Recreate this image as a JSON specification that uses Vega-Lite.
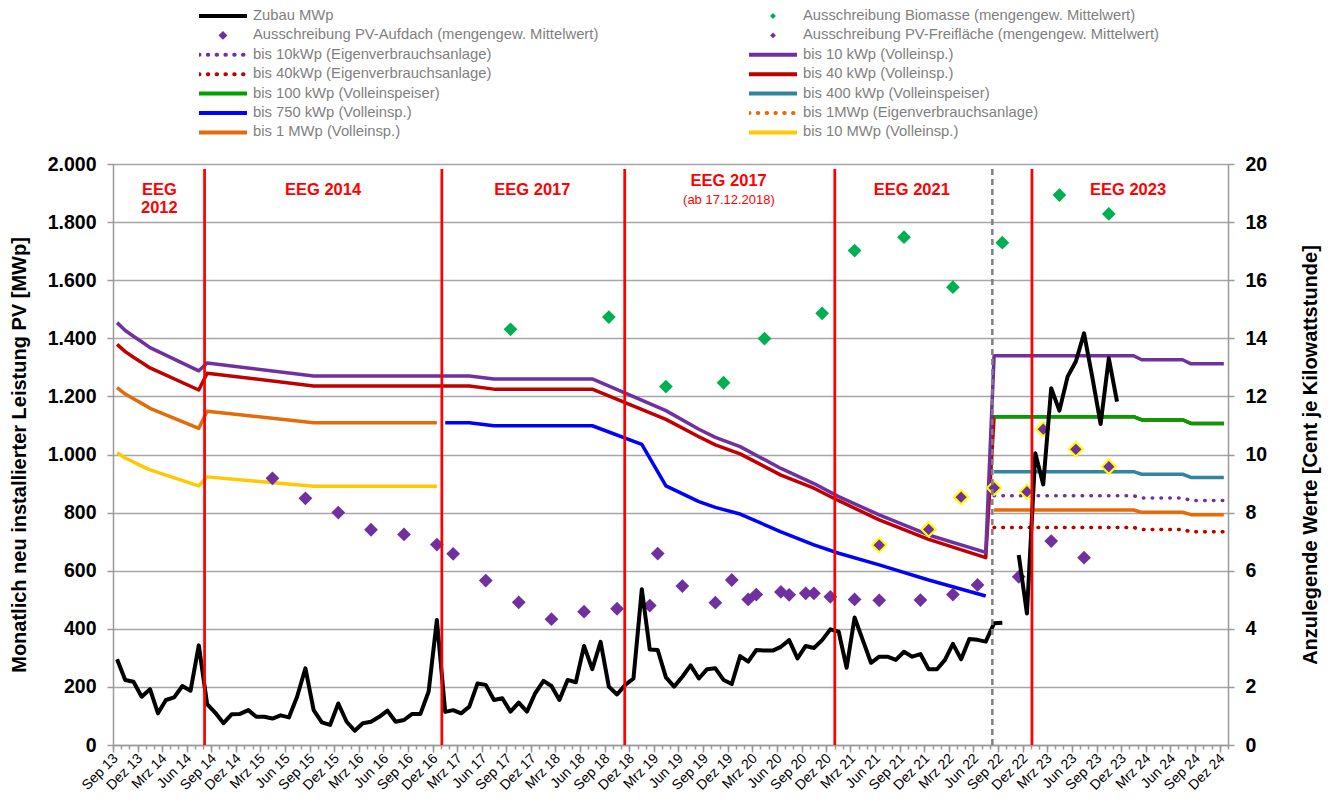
{
  "$schema": "https://vega.github.io/schema/vega-lite/v6.json",
  "width": 1115,
  "height": 581,
  "autosize": {"type": "none"},
  "padding": {"left": 113, "top": 164, "right": 107, "bottom": 59},
  "background": "white",
  "config": {
    "view": {"stroke": null},
    "font": "Liberation Sans",
    "axis": {"labelFont": "Liberation Sans", "titleFont": "Liberation Sans", "domainColor": "#9a9a9a", "tickColor": "#9a9a9a", "gridColor": "#a6a6a6"},
    "axisX": {"labelOverlap": false, "labelFlush": false, "labelBound": false}
  },
  "datasets": {
    "zubau": [
      {"monat": "2013-09", "mwp": 295}, {"monat": "2013-10", "mwp": 224}, {"monat": "2013-11", "mwp": 218}, {"monat": "2013-12", "mwp": 166},
      {"monat": "2014-01", "mwp": 192}, {"monat": "2014-02", "mwp": 109}, {"monat": "2014-03", "mwp": 155}, {"monat": "2014-04", "mwp": 164},
      {"monat": "2014-05", "mwp": 203}, {"monat": "2014-06", "mwp": 187}, {"monat": "2014-07", "mwp": 343}, {"monat": "2014-08", "mwp": 141},
      {"monat": "2014-09", "mwp": 111}, {"monat": "2014-10", "mwp": 75}, {"monat": "2014-11", "mwp": 106}, {"monat": "2014-12", "mwp": 107},
      {"monat": "2015-01", "mwp": 120}, {"monat": "2015-02", "mwp": 97}, {"monat": "2015-03", "mwp": 97}, {"monat": "2015-04", "mwp": 91},
      {"monat": "2015-05", "mwp": 102}, {"monat": "2015-06", "mwp": 95}, {"monat": "2015-07", "mwp": 166}, {"monat": "2015-08", "mwp": 264},
      {"monat": "2015-09", "mwp": 120}, {"monat": "2015-10", "mwp": 78}, {"monat": "2015-11", "mwp": 69}, {"monat": "2015-12", "mwp": 143},
      {"monat": "2016-01", "mwp": 80}, {"monat": "2016-02", "mwp": 49}, {"monat": "2016-03", "mwp": 75}, {"monat": "2016-04", "mwp": 80},
      {"monat": "2016-05", "mwp": 97}, {"monat": "2016-06", "mwp": 118}, {"monat": "2016-07", "mwp": 80}, {"monat": "2016-08", "mwp": 86},
      {"monat": "2016-09", "mwp": 107}, {"monat": "2016-10", "mwp": 107}, {"monat": "2016-11", "mwp": 184}, {"monat": "2016-12", "mwp": 430},
      {"monat": "2017-01", "mwp": 114}, {"monat": "2017-02", "mwp": 120}, {"monat": "2017-03", "mwp": 109}, {"monat": "2017-04", "mwp": 132},
      {"monat": "2017-05", "mwp": 212}, {"monat": "2017-06", "mwp": 207}, {"monat": "2017-07", "mwp": 155}, {"monat": "2017-08", "mwp": 161},
      {"monat": "2017-09", "mwp": 115}, {"monat": "2017-10", "mwp": 146}, {"monat": "2017-11", "mwp": 115}, {"monat": "2017-12", "mwp": 178},
      {"monat": "2018-01", "mwp": 221}, {"monat": "2018-02", "mwp": 203}, {"monat": "2018-03", "mwp": 155}, {"monat": "2018-04", "mwp": 224},
      {"monat": "2018-05", "mwp": 216}, {"monat": "2018-06", "mwp": 341}, {"monat": "2018-07", "mwp": 261}, {"monat": "2018-08", "mwp": 355},
      {"monat": "2018-09", "mwp": 201}, {"monat": "2018-10", "mwp": 174}, {"monat": "2018-11", "mwp": 207}, {"monat": "2018-12", "mwp": 229},
      {"monat": "2019-01", "mwp": 536}, {"monat": "2019-02", "mwp": 329}, {"monat": "2019-03", "mwp": 327}, {"monat": "2019-04", "mwp": 233},
      {"monat": "2019-05", "mwp": 201}, {"monat": "2019-06", "mwp": 235}, {"monat": "2019-07", "mwp": 274}, {"monat": "2019-08", "mwp": 229},
      {"monat": "2019-09", "mwp": 261}, {"monat": "2019-10", "mwp": 264}, {"monat": "2019-11", "mwp": 224}, {"monat": "2019-12", "mwp": 210},
      {"monat": "2020-01", "mwp": 306}, {"monat": "2020-02", "mwp": 287}, {"monat": "2020-03", "mwp": 327}, {"monat": "2020-04", "mwp": 325},
      {"monat": "2020-05", "mwp": 325}, {"monat": "2020-06", "mwp": 338}, {"monat": "2020-07", "mwp": 361}, {"monat": "2020-08", "mwp": 298},
      {"monat": "2020-09", "mwp": 341}, {"monat": "2020-10", "mwp": 334}, {"monat": "2020-11", "mwp": 361}, {"monat": "2020-12", "mwp": 398},
      {"monat": "2021-01", "mwp": 390}, {"monat": "2021-02", "mwp": 266}, {"monat": "2021-03", "mwp": 439}, {"monat": "2021-04", "mwp": 361},
      {"monat": "2021-05", "mwp": 283}, {"monat": "2021-06", "mwp": 304}, {"monat": "2021-07", "mwp": 304}, {"monat": "2021-08", "mwp": 293},
      {"monat": "2021-09", "mwp": 321}, {"monat": "2021-10", "mwp": 304}, {"monat": "2021-11", "mwp": 313}, {"monat": "2021-12", "mwp": 261},
      {"monat": "2022-01", "mwp": 261}, {"monat": "2022-02", "mwp": 293}, {"monat": "2022-03", "mwp": 348}, {"monat": "2022-04", "mwp": 295},
      {"monat": "2022-05", "mwp": 365}, {"monat": "2022-06", "mwp": 362}, {"monat": "2022-07", "mwp": 356}, {"monat": "2022-08", "mwp": 419},
      {"monat": "2022-09", "mwp": 421}, {"monat": "2022-10", "mwp": null}, {"monat": "2022-11", "mwp": 654}, {"monat": "2022-12", "mwp": 453},
      {"monat": "2023-01", "mwp": 1004}, {"monat": "2023-02", "mwp": 897}, {"monat": "2023-03", "mwp": 1228}, {"monat": "2023-04", "mwp": 1151},
      {"monat": "2023-05", "mwp": 1268}, {"monat": "2023-06", "mwp": 1320}, {"monat": "2023-07", "mwp": 1417}, {"monat": "2023-08", "mwp": 1265},
      {"monat": "2023-09", "mwp": 1105}, {"monat": "2023-10", "mwp": 1331}, {"monat": "2023-11", "mwp": 1182}
    ],
    "tarife_voll": [
      {"serie": "bis 10 MWp (Volleinsp.)", "monat": "2013-09", "wert": 10.06},
      {"serie": "bis 10 MWp (Volleinsp.)", "monat": "2013-10", "wert": 9.88},
      {"serie": "bis 10 MWp (Volleinsp.)", "monat": "2013-11", "wert": 9.74},
      {"serie": "bis 10 MWp (Volleinsp.)", "monat": "2013-12", "wert": 9.60},
      {"serie": "bis 10 MWp (Volleinsp.)", "monat": "2014-01", "wert": 9.47},
      {"serie": "bis 10 MWp (Volleinsp.)", "monat": "2014-07", "wert": 8.92},
      {"serie": "bis 10 MWp (Volleinsp.)", "monat": "2014-08", "wert": 9.23},
      {"serie": "bis 10 MWp (Volleinsp.)", "monat": "2015-09", "wert": 8.91},
      {"serie": "bis 10 MWp (Volleinsp.)", "monat": "2016-12", "wert": 8.91},
      {"serie": "bis 1 MWp (Volleinsp.)", "monat": "2013-09", "wert": 12.30},
      {"serie": "bis 1 MWp (Volleinsp.)", "monat": "2013-10", "wert": 12.08},
      {"serie": "bis 1 MWp (Volleinsp.)", "monat": "2013-11", "wert": 11.92},
      {"serie": "bis 1 MWp (Volleinsp.)", "monat": "2013-12", "wert": 11.76},
      {"serie": "bis 1 MWp (Volleinsp.)", "monat": "2014-01", "wert": 11.59},
      {"serie": "bis 1 MWp (Volleinsp.)", "monat": "2014-07", "wert": 10.90},
      {"serie": "bis 1 MWp (Volleinsp.)", "monat": "2014-08", "wert": 11.49},
      {"serie": "bis 1 MWp (Volleinsp.)", "monat": "2015-09", "wert": 11.09},
      {"serie": "bis 1 MWp (Volleinsp.)", "monat": "2016-12", "wert": 11.09},
      {"serie": "bis 1 MWp (Volleinsp.)", "monat": "2017-01", "wert": null},
      {"serie": "bis 1 MWp (Volleinsp.)", "monat": "2022-08", "wert": 8.09},
      {"serie": "bis 1 MWp (Volleinsp.)", "monat": "2024-01", "wert": 8.09},
      {"serie": "bis 1 MWp (Volleinsp.)", "monat": "2024-02", "wert": 8.01},
      {"serie": "bis 1 MWp (Volleinsp.)", "monat": "2024-07", "wert": 8.01},
      {"serie": "bis 1 MWp (Volleinsp.)", "monat": "2024-08", "wert": 7.93},
      {"serie": "bis 1 MWp (Volleinsp.)", "monat": "2024-12", "wert": 7.93},
      {"serie": "bis 750 kWp (Volleinsp.)", "monat": "2017-01", "wert": 11.09},
      {"serie": "bis 750 kWp (Volleinsp.)", "monat": "2017-04", "wert": 11.09},
      {"serie": "bis 750 kWp (Volleinsp.)", "monat": "2017-07", "wert": 10.99},
      {"serie": "bis 750 kWp (Volleinsp.)", "monat": "2018-07", "wert": 10.99},
      {"serie": "bis 750 kWp (Volleinsp.)", "monat": "2019-01", "wert": 10.35},
      {"serie": "bis 750 kWp (Volleinsp.)", "monat": "2019-04", "wert": 8.92},
      {"serie": "bis 750 kWp (Volleinsp.)", "monat": "2019-08", "wert": 8.38},
      {"serie": "bis 750 kWp (Volleinsp.)", "monat": "2019-10", "wert": 8.18},
      {"serie": "bis 750 kWp (Volleinsp.)", "monat": "2020-01", "wert": 7.95},
      {"serie": "bis 750 kWp (Volleinsp.)", "monat": "2020-06", "wert": 7.34},
      {"serie": "bis 750 kWp (Volleinsp.)", "monat": "2020-10", "wert": 6.89},
      {"serie": "bis 750 kWp (Volleinsp.)", "monat": "2021-01", "wert": 6.60},
      {"serie": "bis 750 kWp (Volleinsp.)", "monat": "2021-06", "wert": 6.20},
      {"serie": "bis 750 kWp (Volleinsp.)", "monat": "2021-12", "wert": 5.68},
      {"serie": "bis 750 kWp (Volleinsp.)", "monat": "2022-07", "wert": 5.13},
      {"serie": "bis 40 kWp (Volleinsp.)", "monat": "2013-09", "wert": 13.79},
      {"serie": "bis 40 kWp (Volleinsp.)", "monat": "2013-10", "wert": 13.54},
      {"serie": "bis 40 kWp (Volleinsp.)", "monat": "2013-11", "wert": 13.35},
      {"serie": "bis 40 kWp (Volleinsp.)", "monat": "2013-12", "wert": 13.17},
      {"serie": "bis 40 kWp (Volleinsp.)", "monat": "2014-01", "wert": 12.98},
      {"serie": "bis 40 kWp (Volleinsp.)", "monat": "2014-07", "wert": 12.22},
      {"serie": "bis 40 kWp (Volleinsp.)", "monat": "2014-08", "wert": 12.80},
      {"serie": "bis 40 kWp (Volleinsp.)", "monat": "2015-09", "wert": 12.36},
      {"serie": "bis 40 kWp (Volleinsp.)", "monat": "2017-04", "wert": 12.36},
      {"serie": "bis 40 kWp (Volleinsp.)", "monat": "2017-07", "wert": 12.25},
      {"serie": "bis 40 kWp (Volleinsp.)", "monat": "2018-07", "wert": 12.25},
      {"serie": "bis 40 kWp (Volleinsp.)", "monat": "2019-04", "wert": 11.21},
      {"serie": "bis 40 kWp (Volleinsp.)", "monat": "2019-08", "wert": 10.61},
      {"serie": "bis 40 kWp (Volleinsp.)", "monat": "2019-10", "wert": 10.33},
      {"serie": "bis 40 kWp (Volleinsp.)", "monat": "2020-01", "wert": 10.02},
      {"serie": "bis 40 kWp (Volleinsp.)", "monat": "2020-06", "wert": 9.29},
      {"serie": "bis 40 kWp (Volleinsp.)", "monat": "2020-10", "wert": 8.84},
      {"serie": "bis 40 kWp (Volleinsp.)", "monat": "2021-01", "wert": 8.41},
      {"serie": "bis 40 kWp (Volleinsp.)", "monat": "2021-06", "wert": 7.75},
      {"serie": "bis 40 kWp (Volleinsp.)", "monat": "2021-12", "wert": 7.08},
      {"serie": "bis 40 kWp (Volleinsp.)", "monat": "2022-07", "wert": 6.45},
      {"serie": "bis 40 kWp (Volleinsp.)", "monat": "2022-08", "wert": 11.30},
      {"serie": "bis 40 kWp (Volleinsp.)", "monat": "2024-01", "wert": 11.30},
      {"serie": "bis 40 kWp (Volleinsp.)", "monat": "2024-02", "wert": 11.19},
      {"serie": "bis 40 kWp (Volleinsp.)", "monat": "2024-07", "wert": 11.19},
      {"serie": "bis 40 kWp (Volleinsp.)", "monat": "2024-08", "wert": 11.07},
      {"serie": "bis 40 kWp (Volleinsp.)", "monat": "2024-12", "wert": 11.07},
      {"serie": "bis 400 kWp (Volleinspeiser)", "monat": "2022-08", "wert": 9.41},
      {"serie": "bis 400 kWp (Volleinspeiser)", "monat": "2024-01", "wert": 9.41},
      {"serie": "bis 400 kWp (Volleinspeiser)", "monat": "2024-02", "wert": 9.32},
      {"serie": "bis 400 kWp (Volleinspeiser)", "monat": "2024-07", "wert": 9.32},
      {"serie": "bis 400 kWp (Volleinspeiser)", "monat": "2024-08", "wert": 9.21},
      {"serie": "bis 400 kWp (Volleinspeiser)", "monat": "2024-12", "wert": 9.21},
      {"serie": "bis 100 kWp (Volleinspeiser)", "monat": "2022-08", "wert": 11.30},
      {"serie": "bis 100 kWp (Volleinspeiser)", "monat": "2024-01", "wert": 11.30},
      {"serie": "bis 100 kWp (Volleinspeiser)", "monat": "2024-02", "wert": 11.19},
      {"serie": "bis 100 kWp (Volleinspeiser)", "monat": "2024-07", "wert": 11.19},
      {"serie": "bis 100 kWp (Volleinspeiser)", "monat": "2024-08", "wert": 11.07},
      {"serie": "bis 100 kWp (Volleinspeiser)", "monat": "2024-12", "wert": 11.07},
      {"serie": "bis 10 kWp (Volleinsp.)", "monat": "2013-09", "wert": 14.54},
      {"serie": "bis 10 kWp (Volleinsp.)", "monat": "2013-10", "wert": 14.27},
      {"serie": "bis 10 kWp (Volleinsp.)", "monat": "2013-11", "wert": 14.07},
      {"serie": "bis 10 kWp (Volleinsp.)", "monat": "2013-12", "wert": 13.88},
      {"serie": "bis 10 kWp (Volleinsp.)", "monat": "2014-01", "wert": 13.68},
      {"serie": "bis 10 kWp (Volleinsp.)", "monat": "2014-07", "wert": 12.88},
      {"serie": "bis 10 kWp (Volleinsp.)", "monat": "2014-08", "wert": 13.15},
      {"serie": "bis 10 kWp (Volleinsp.)", "monat": "2015-09", "wert": 12.70},
      {"serie": "bis 10 kWp (Volleinsp.)", "monat": "2017-04", "wert": 12.70},
      {"serie": "bis 10 kWp (Volleinsp.)", "monat": "2017-07", "wert": 12.60},
      {"serie": "bis 10 kWp (Volleinsp.)", "monat": "2018-07", "wert": 12.60},
      {"serie": "bis 10 kWp (Volleinsp.)", "monat": "2019-04", "wert": 11.51},
      {"serie": "bis 10 kWp (Volleinsp.)", "monat": "2019-08", "wert": 10.87},
      {"serie": "bis 10 kWp (Volleinsp.)", "monat": "2019-10", "wert": 10.59},
      {"serie": "bis 10 kWp (Volleinsp.)", "monat": "2020-01", "wert": 10.27},
      {"serie": "bis 10 kWp (Volleinsp.)", "monat": "2020-06", "wert": 9.52},
      {"serie": "bis 10 kWp (Volleinsp.)", "monat": "2020-10", "wert": 9.00},
      {"serie": "bis 10 kWp (Volleinsp.)", "monat": "2021-01", "wert": 8.55},
      {"serie": "bis 10 kWp (Volleinsp.)", "monat": "2021-06", "wert": 7.92},
      {"serie": "bis 10 kWp (Volleinsp.)", "monat": "2021-12", "wert": 7.23},
      {"serie": "bis 10 kWp (Volleinsp.)", "monat": "2022-07", "wert": 6.63},
      {"serie": "bis 10 kWp (Volleinsp.)", "monat": "2022-08", "wert": 13.40},
      {"serie": "bis 10 kWp (Volleinsp.)", "monat": "2024-01", "wert": 13.40},
      {"serie": "bis 10 kWp (Volleinsp.)", "monat": "2024-02", "wert": 13.26},
      {"serie": "bis 10 kWp (Volleinsp.)", "monat": "2024-07", "wert": 13.26},
      {"serie": "bis 10 kWp (Volleinsp.)", "monat": "2024-08", "wert": 13.12},
      {"serie": "bis 10 kWp (Volleinsp.)", "monat": "2024-12", "wert": 13.12}
    ],
    "tarife_ev": [
      {"serie": "bis 1MWp (Eigenverbrauchsanlage)", "monat": "2022-08", "wert": 7.49},
      {"serie": "bis 1MWp (Eigenverbrauchsanlage)", "monat": "2024-01", "wert": 7.49},
      {"serie": "bis 1MWp (Eigenverbrauchsanlage)", "monat": "2024-02", "wert": 7.42},
      {"serie": "bis 1MWp (Eigenverbrauchsanlage)", "monat": "2024-07", "wert": 7.42},
      {"serie": "bis 1MWp (Eigenverbrauchsanlage)", "monat": "2024-08", "wert": 7.34},
      {"serie": "bis 1MWp (Eigenverbrauchsanlage)", "monat": "2024-12", "wert": 7.34},
      {"serie": "bis 40kWp (Eigenverbrauchsanlage)", "monat": "2022-08", "wert": 7.49},
      {"serie": "bis 40kWp (Eigenverbrauchsanlage)", "monat": "2024-01", "wert": 7.49},
      {"serie": "bis 40kWp (Eigenverbrauchsanlage)", "monat": "2024-02", "wert": 7.42},
      {"serie": "bis 40kWp (Eigenverbrauchsanlage)", "monat": "2024-07", "wert": 7.42},
      {"serie": "bis 40kWp (Eigenverbrauchsanlage)", "monat": "2024-08", "wert": 7.34},
      {"serie": "bis 40kWp (Eigenverbrauchsanlage)", "monat": "2024-12", "wert": 7.34},
      {"serie": "bis 10kWp (Eigenverbrauchsanlage)", "monat": "2022-08", "wert": 8.58},
      {"serie": "bis 10kWp (Eigenverbrauchsanlage)", "monat": "2024-01", "wert": 8.58},
      {"serie": "bis 10kWp (Eigenverbrauchsanlage)", "monat": "2024-02", "wert": 8.50},
      {"serie": "bis 10kWp (Eigenverbrauchsanlage)", "monat": "2024-07", "wert": 8.50},
      {"serie": "bis 10kWp (Eigenverbrauchsanlage)", "monat": "2024-08", "wert": 8.42},
      {"serie": "bis 10kWp (Eigenverbrauchsanlage)", "monat": "2024-12", "wert": 8.42}
    ],
    "ausschreibungen": [
      {"serie": "Ausschreibung Biomasse (mengengew. Mittelwert)", "monat": "2017-09", "wert": 14.31},
      {"serie": "Ausschreibung Biomasse (mengengew. Mittelwert)", "monat": "2018-09", "wert": 14.73},
      {"serie": "Ausschreibung Biomasse (mengengew. Mittelwert)", "monat": "2019-04", "wert": 12.34},
      {"serie": "Ausschreibung Biomasse (mengengew. Mittelwert)", "monat": "2019-11", "wert": 12.47},
      {"serie": "Ausschreibung Biomasse (mengengew. Mittelwert)", "monat": "2020-04", "wert": 13.99},
      {"serie": "Ausschreibung Biomasse (mengengew. Mittelwert)", "monat": "2020-11", "wert": 14.86},
      {"serie": "Ausschreibung Biomasse (mengengew. Mittelwert)", "monat": "2021-03", "wert": 17.02},
      {"serie": "Ausschreibung Biomasse (mengengew. Mittelwert)", "monat": "2021-09", "wert": 17.48},
      {"serie": "Ausschreibung Biomasse (mengengew. Mittelwert)", "monat": "2022-03", "wert": 15.76},
      {"serie": "Ausschreibung Biomasse (mengengew. Mittelwert)", "monat": "2022-09", "wert": 17.29},
      {"serie": "Ausschreibung Biomasse (mengengew. Mittelwert)", "monat": "2023-04", "wert": 18.93},
      {"serie": "Ausschreibung Biomasse (mengengew. Mittelwert)", "monat": "2023-10", "wert": 18.28},
      {"serie": "Ausschreibung PV-Freifläche (mengengew. Mittelwert)", "monat": "2015-04", "wert": 9.18},
      {"serie": "Ausschreibung PV-Freifläche (mengengew. Mittelwert)", "monat": "2015-08", "wert": 8.49},
      {"serie": "Ausschreibung PV-Freifläche (mengengew. Mittelwert)", "monat": "2015-12", "wert": 8.00},
      {"serie": "Ausschreibung PV-Freifläche (mengengew. Mittelwert)", "monat": "2016-04", "wert": 7.41},
      {"serie": "Ausschreibung PV-Freifläche (mengengew. Mittelwert)", "monat": "2016-08", "wert": 7.25},
      {"serie": "Ausschreibung PV-Freifläche (mengengew. Mittelwert)", "monat": "2016-12", "wert": 6.90},
      {"serie": "Ausschreibung PV-Freifläche (mengengew. Mittelwert)", "monat": "2017-02", "wert": 6.58},
      {"serie": "Ausschreibung PV-Freifläche (mengengew. Mittelwert)", "monat": "2017-06", "wert": 5.66},
      {"serie": "Ausschreibung PV-Freifläche (mengengew. Mittelwert)", "monat": "2017-10", "wert": 4.91},
      {"serie": "Ausschreibung PV-Freifläche (mengengew. Mittelwert)", "monat": "2018-02", "wert": 4.33},
      {"serie": "Ausschreibung PV-Freifläche (mengengew. Mittelwert)", "monat": "2018-06", "wert": 4.59},
      {"serie": "Ausschreibung PV-Freifläche (mengengew. Mittelwert)", "monat": "2018-10", "wert": 4.69},
      {"serie": "Ausschreibung PV-Freifläche (mengengew. Mittelwert)", "monat": "2019-02", "wert": 4.80},
      {"serie": "Ausschreibung PV-Freifläche (mengengew. Mittelwert)", "monat": "2019-03", "wert": 6.59},
      {"serie": "Ausschreibung PV-Freifläche (mengengew. Mittelwert)", "monat": "2019-06", "wert": 5.47},
      {"serie": "Ausschreibung PV-Freifläche (mengengew. Mittelwert)", "monat": "2019-10", "wert": 4.90},
      {"serie": "Ausschreibung PV-Freifläche (mengengew. Mittelwert)", "monat": "2019-12", "wert": 5.68},
      {"serie": "Ausschreibung PV-Freifläche (mengengew. Mittelwert)", "monat": "2020-02", "wert": 5.01},
      {"serie": "Ausschreibung PV-Freifläche (mengengew. Mittelwert)", "monat": "2020-03", "wert": 5.18},
      {"serie": "Ausschreibung PV-Freifläche (mengengew. Mittelwert)", "monat": "2020-06", "wert": 5.27},
      {"serie": "Ausschreibung PV-Freifläche (mengengew. Mittelwert)", "monat": "2020-07", "wert": 5.17},
      {"serie": "Ausschreibung PV-Freifläche (mengengew. Mittelwert)", "monat": "2020-09", "wert": 5.22},
      {"serie": "Ausschreibung PV-Freifläche (mengengew. Mittelwert)", "monat": "2020-10", "wert": 5.22},
      {"serie": "Ausschreibung PV-Freifläche (mengengew. Mittelwert)", "monat": "2020-12", "wert": 5.10},
      {"serie": "Ausschreibung PV-Freifläche (mengengew. Mittelwert)", "monat": "2021-03", "wert": 5.01},
      {"serie": "Ausschreibung PV-Freifläche (mengengew. Mittelwert)", "monat": "2021-06", "wert": 4.98},
      {"serie": "Ausschreibung PV-Freifläche (mengengew. Mittelwert)", "monat": "2021-11", "wert": 4.99},
      {"serie": "Ausschreibung PV-Freifläche (mengengew. Mittelwert)", "monat": "2022-03", "wert": 5.18},
      {"serie": "Ausschreibung PV-Freifläche (mengengew. Mittelwert)", "monat": "2022-06", "wert": 5.51},
      {"serie": "Ausschreibung PV-Freifläche (mengengew. Mittelwert)", "monat": "2022-11", "wert": 5.79},
      {"serie": "Ausschreibung PV-Freifläche (mengengew. Mittelwert)", "monat": "2023-03", "wert": 7.02},
      {"serie": "Ausschreibung PV-Freifläche (mengengew. Mittelwert)", "monat": "2023-07", "wert": 6.45},
      {"serie": "Ausschreibung PV-Aufdach (mengengew. Mittelwert)", "monat": "2021-06", "wert": 6.88},
      {"serie": "Ausschreibung PV-Aufdach (mengengew. Mittelwert)", "monat": "2021-12", "wert": 7.42},
      {"serie": "Ausschreibung PV-Aufdach (mengengew. Mittelwert)", "monat": "2022-04", "wert": 8.53},
      {"serie": "Ausschreibung PV-Aufdach (mengengew. Mittelwert)", "monat": "2022-08", "wert": 8.85},
      {"serie": "Ausschreibung PV-Aufdach (mengengew. Mittelwert)", "monat": "2022-12", "wert": 8.72},
      {"serie": "Ausschreibung PV-Aufdach (mengengew. Mittelwert)", "monat": "2023-02", "wert": 10.87},
      {"serie": "Ausschreibung PV-Aufdach (mengengew. Mittelwert)", "monat": "2023-06", "wert": 10.18},
      {"serie": "Ausschreibung PV-Aufdach (mengengew. Mittelwert)", "monat": "2023-10", "wert": 9.58}
    ],
    "eeg": [
      {"tag": "2014-08-07", "art": "EEG"},
      {"tag": "2017-01-04", "art": "EEG"},
      {"tag": "2018-11-14", "art": "EEG"},
      {"tag": "2021-01-02", "art": "EEG"},
      {"tag": "2023-01-04", "art": "EEG"},
      {"tag": "2022-08-10", "art": "Stichtag"}
    ],
    "beschriftung": [
      {"tag": "2014-02-20", "text": "EEG\n2012", "art": "Gesetz"},
      {"tag": "2015-10-21", "text": "EEG 2014", "art": "Gesetz"},
      {"tag": "2017-12-06", "text": "EEG 2017", "art": "Gesetz"},
      {"tag": "2021-10-15", "text": "EEG 2021", "art": "Gesetz"},
      {"tag": "2023-12-27", "text": "EEG 2023", "art": "Gesetz"},
      {"tag": "2019-12-05", "text": "EEG 2017", "art": "Novelle"},
      {"tag": "2019-12-06", "text": "(ab 17.12.2018)", "art": "Zusatz"}
    ]
  },
  "layer": [
    {
      "layer": [
        {
          "data": {"name": "tarife_voll"},
          "mark": {"type": "line", "strokeWidth": 3.5, "strokeJoin": "round"},
          "encoding": {
            "x": {
              "field": "monat", "type": "temporal", "timeUnit": "utcyearmonth", "bandPosition": 0.5,
              "scale": {"type": "utc", "nice": false, "domain": [{"year": 2013, "month": 9, "date": 1, "utc": true}, {"year": 2025, "month": 1, "date": 1, "utc": true}]},
              "axis": {
                "orient": "bottom", "title": null, "grid": false, "tickCount": 200,
                "values": [
                  {"year": 2013, "month": 9, "date": 1, "utc": true}, {"year": 2013, "month": 12, "date": 1, "utc": true},
                  {"year": 2014, "month": 3, "date": 1, "utc": true}, {"year": 2014, "month": 6, "date": 1, "utc": true}, {"year": 2014, "month": 9, "date": 1, "utc": true}, {"year": 2014, "month": 12, "date": 1, "utc": true},
                  {"year": 2015, "month": 3, "date": 1, "utc": true}, {"year": 2015, "month": 6, "date": 1, "utc": true}, {"year": 2015, "month": 9, "date": 1, "utc": true}, {"year": 2015, "month": 12, "date": 1, "utc": true},
                  {"year": 2016, "month": 3, "date": 1, "utc": true}, {"year": 2016, "month": 6, "date": 1, "utc": true}, {"year": 2016, "month": 9, "date": 1, "utc": true}, {"year": 2016, "month": 12, "date": 1, "utc": true},
                  {"year": 2017, "month": 3, "date": 1, "utc": true}, {"year": 2017, "month": 6, "date": 1, "utc": true}, {"year": 2017, "month": 9, "date": 1, "utc": true}, {"year": 2017, "month": 12, "date": 1, "utc": true},
                  {"year": 2018, "month": 3, "date": 1, "utc": true}, {"year": 2018, "month": 6, "date": 1, "utc": true}, {"year": 2018, "month": 9, "date": 1, "utc": true}, {"year": 2018, "month": 12, "date": 1, "utc": true},
                  {"year": 2019, "month": 3, "date": 1, "utc": true}, {"year": 2019, "month": 6, "date": 1, "utc": true}, {"year": 2019, "month": 9, "date": 1, "utc": true}, {"year": 2019, "month": 12, "date": 1, "utc": true},
                  {"year": 2020, "month": 3, "date": 1, "utc": true}, {"year": 2020, "month": 6, "date": 1, "utc": true}, {"year": 2020, "month": 9, "date": 1, "utc": true}, {"year": 2020, "month": 12, "date": 1, "utc": true},
                  {"year": 2021, "month": 3, "date": 1, "utc": true}, {"year": 2021, "month": 6, "date": 1, "utc": true}, {"year": 2021, "month": 9, "date": 1, "utc": true}, {"year": 2021, "month": 12, "date": 1, "utc": true},
                  {"year": 2022, "month": 3, "date": 1, "utc": true}, {"year": 2022, "month": 6, "date": 1, "utc": true}, {"year": 2022, "month": 9, "date": 1, "utc": true}, {"year": 2022, "month": 12, "date": 1, "utc": true},
                  {"year": 2023, "month": 3, "date": 1, "utc": true}, {"year": 2023, "month": 6, "date": 1, "utc": true}, {"year": 2023, "month": 9, "date": 1, "utc": true}, {"year": 2023, "month": 12, "date": 1, "utc": true},
                  {"year": 2024, "month": 3, "date": 1, "utc": true}, {"year": 2024, "month": 6, "date": 1, "utc": true}, {"year": 2024, "month": 9, "date": 1, "utc": true}, {"year": 2024, "month": 12, "date": 1, "utc": true}
                ],
                "labelExpr": "['Jan','Feb','Mrz','Apr','Mai','Jun','Jul','Aug','Sep','Okt','Nov','Dez'][utcmonth(datum.value)] + ' ' + utcFormat(datum.value, '%y')",
                "labelAngle": -45, "labelAlign": "right", "labelBaseline": "middle", "labelFontSize": 14, "labelColor": "#000000",
                "labelPadding": 4, "labelOffset": 2.5, "labelFlush": false, "labelOverlap": false, "labelBound": false, "labelSeparation": 0,
                "tickSize": 7, "tickWidth": 1.5, "tickColor": "#9a9a9a", "domainColor": "#9a9a9a", "domainWidth": 1.5
              }
            },
            "y": {
              "field": "wert", "type": "quantitative",
              "scale": {"domain": [0, 20], "nice": false},
              "axis": {"orient": "right", "values": [0, 2, 4, 6, 8, 10, 12, 14, 16, 18, 20], "grid": false, "domainColor": "#9a9a9a", "domainWidth": 1.5, "tickSize": 6, "tickWidth": 1.5, "tickColor": "#9a9a9a", "labelFontSize": 19.5, "labelFontWeight": "bold", "labelColor": "#000000", "labelPadding": 11, "title": "Anzulegende Werte [Cent je Kilowattstunde]", "titleAngle": 270, "titleFontSize": 20, "titleFontWeight": "bold", "titleColor": "#000000", "titlePadding": 54}
            },
            "color": {
              "field": "serie", "type": "nominal",
              "scale": {
                "domain": ["Zubau MWp", "Ausschreibung PV-Aufdach (mengengew. Mittelwert)", "bis 10kWp (Eigenverbrauchsanlage)", "bis 40kWp (Eigenverbrauchsanlage)", "bis 100 kWp (Volleinspeiser)", "bis 750 kWp (Volleinsp.)", "bis 1 MWp (Volleinsp.)", "Ausschreibung Biomasse (mengengew. Mittelwert)", "Ausschreibung PV-Freifläche (mengengew. Mittelwert)", "bis 10 kWp (Volleinsp.)", "bis 40 kWp (Volleinsp.)", "bis 400 kWp (Volleinspeiser)", "bis 1MWp (Eigenverbrauchsanlage)", "bis 10 MWp (Volleinsp.)"],
                "range": ["#000000", "#7030A0", "#7030A0", "#C00000", "#00A000", "#0000FF", "#E36C09", "#00B050", "#7030A0", "#7030A0", "#C00000", "#31859C", "#E36C09", "#FFC800"]
              },
              "legend": {
                "orient": "none", "legendX": 86, "legendY": -156, "title": null, "columns": 2, "columnPadding": 150, "rowPadding": 3.4, "padding": 0,
                "clipHeight": 16, "symbolType": "stroke", "symbolSize": 100, "symbolStrokeWidth": 4, "symbolOffset": 16.6,
                "labelFont": "Liberation Sans", "labelFontSize": 14.8, "labelColor": "#7f7f7f", "labelLimit": 600, "labelOffset": 22.5,
                "encode": {
                  "symbols": {
                    "update": {
                      "shape": {"signal": "indexof([1,7,8], datum.index) >= 0 ? 'diamond' : 'stroke'"},
                      "size": {"signal": "indexof([1,7,8], datum.index) >= 0 ? (datum.index == 1 ? 45 : 35) : 2304"},
                      "fill": {"signal": "indexof([1,7,8], datum.index) >= 0 ? scale('color', datum.value) : 'transparent'"},
                      "stroke": {"signal": "datum.index == 1 ? '#FFFF00' : scale('color', datum.value)"},
                      "strokeWidth": {"signal": "datum.index == 1 ? 1.5 : (datum.index == 7 || datum.index == 8) ? 0 : 4"},
                      "strokeDash": {"signal": "indexof([2,3,12], datum.index) >= 0 ? [0.5, 8.3] : null"},
                      "strokeCap": {"signal": "indexof([2,3,12], datum.index) >= 0 ? 'round' : 'butt'"},
                      "opacity": {"value": 1}
                    }
                  }
                }
              }
            }
          }
        },
        {
          "data": {"name": "tarife_ev"},
          "mark": {"type": "line", "strokeWidth": 3.5, "strokeDash": [0.5, 8.3], "strokeCap": "round"},
          "encoding": {
            "x": {"field": "monat", "type": "temporal", "timeUnit": "utcyearmonth", "bandPosition": 0.5, "scale": {"type": "utc"}},
            "y": {"field": "wert", "type": "quantitative"},
            "color": {"field": "serie", "type": "nominal"}
          }
        },
        {
          "data": {"name": "ausschreibungen"},
          "transform": [{"filter": "datum.serie !== 'Ausschreibung PV-Aufdach (mengengew. Mittelwert)'"}],
          "mark": {"type": "point", "shape": "diamond", "filled": true, "size": 190, "opacity": 1},
          "encoding": {
            "x": {"field": "monat", "type": "temporal", "timeUnit": "utcyearmonth", "bandPosition": 0.5, "scale": {"type": "utc"}},
            "y": {"field": "wert", "type": "quantitative"},
            "color": {"field": "serie", "type": "nominal"}
          }
        },
        {
          "data": {"name": "ausschreibungen"},
          "transform": [{"filter": "datum.serie === 'Ausschreibung PV-Aufdach (mengengew. Mittelwert)'"}],
          "mark": {"type": "point", "shape": "diamond", "filled": true, "size": 200, "opacity": 1, "stroke": "#FFFF00", "strokeWidth": 2},
          "encoding": {
            "x": {"field": "monat", "type": "temporal", "timeUnit": "utcyearmonth", "bandPosition": 0.5, "scale": {"type": "utc"}},
            "y": {"field": "wert", "type": "quantitative"},
            "color": {"field": "serie", "type": "nominal"}
          }
        }
      ]
    },
    {
      "layer": [
        {
          "data": {"name": "zubau"},
          "mark": {"type": "line", "strokeWidth": 4, "strokeJoin": "round"},
          "encoding": {
            "x": {
              "field": "monat", "type": "temporal", "timeUnit": "utcyearmonth", "bandPosition": 0.5,
              "scale": {"type": "utc"},
              "axis": {"orient": "bottom", "title": null, "labels": false, "grid": false, "domain": false, "tickCount": {"interval": "month", "step": 1}, "tickSize": 4, "tickWidth": 1.5, "tickColor": "#9a9a9a"}
            },
            "y": {
              "field": "mwp", "type": "quantitative",
              "scale": {"domain": [0, 2000], "nice": false},
              "axis": {
                "orient": "left", "values": [0, 200, 400, 600, 800, 1000, 1200, 1400, 1600, 1800, 2000], "tickCount": 20,
                "grid": true, "gridColor": "#a6a6a6", "gridWidth": 1.5,
                "domainColor": "#9a9a9a", "domainWidth": 1.5, "tickSize": 6, "tickWidth": 1.5, "tickColor": "#9a9a9a",
                "labelExpr": "replace(format(datum.value, ',d'), ',', '.')",
                "labelFontSize": 19.5, "labelFontWeight": "bold", "labelColor": "#000000", "labelPadding": 11,
                "title": "Monatlich neu installierter Leistung PV [MWp]", "titleFontSize": 20, "titleFontWeight": "bold", "titleColor": "#000000", "titlePadding": 18
              }
            },
            "color": {"datum": "Zubau MWp"}
          }
        },
        {
          "data": {"name": "eeg"},
          "transform": [{"filter": "datum.art === 'EEG'"}],
          "mark": {"type": "rule", "color": "#FF0000", "strokeWidth": 2.75},
          "encoding": {
            "x": {"field": "tag", "type": "temporal", "scale": {"type": "utc"}},
            "y": {"datum": 1983, "type": "quantitative"},
            "y2": {"datum": 0}
          }
        },
        {
          "data": {"name": "eeg"},
          "transform": [{"filter": "datum.art === 'Stichtag'"}],
          "mark": {"type": "rule", "color": "#808080", "strokeWidth": 2.5, "strokeDash": [6, 4]},
          "encoding": {
            "x": {"field": "tag", "type": "temporal", "scale": {"type": "utc"}},
            "y": {"datum": 1983, "type": "quantitative"},
            "y2": {"datum": 0}
          }
        },
        {
          "data": {"name": "beschriftung"},
          "transform": [{"filter": "datum.art === 'Gesetz'"}],
          "mark": {"type": "text", "color": "#FF0000", "font": "Liberation Sans", "fontWeight": "bold", "fontSize": 16.5, "lineBreak": "\n", "lineHeight": 18, "align": "center", "baseline": "middle"},
          "encoding": {
            "x": {"field": "tag", "type": "temporal", "scale": {"type": "utc"}},
            "y": {"datum": 1910, "type": "quantitative"},
            "text": {"field": "text"}
          }
        },
        {
          "data": {"name": "beschriftung"},
          "transform": [{"filter": "datum.art === 'Novelle'"}],
          "mark": {"type": "text", "color": "#FF0000", "font": "Liberation Sans", "fontWeight": "bold", "fontSize": 16.5, "align": "center", "baseline": "middle", "dy": -9},
          "encoding": {
            "x": {"field": "tag", "type": "temporal", "scale": {"type": "utc"}},
            "y": {"datum": 1910, "type": "quantitative"},
            "text": {"field": "text"}
          }
        },
        {
          "data": {"name": "beschriftung"},
          "transform": [{"filter": "datum.art === 'Zusatz'"}],
          "mark": {"type": "text", "color": "#FF0000", "font": "Liberation Sans", "fontWeight": "normal", "fontSize": 13, "align": "center", "baseline": "middle", "dy": 10},
          "encoding": {
            "x": {"field": "tag", "type": "temporal", "scale": {"type": "utc"}},
            "y": {"datum": 1910, "type": "quantitative"},
            "text": {"field": "text"}
          }
        }
      ]
    }
  ],
  "resolve": {"scale": {"y": "independent"}, "axis": {"x": "independent", "y": "independent"}}
}
